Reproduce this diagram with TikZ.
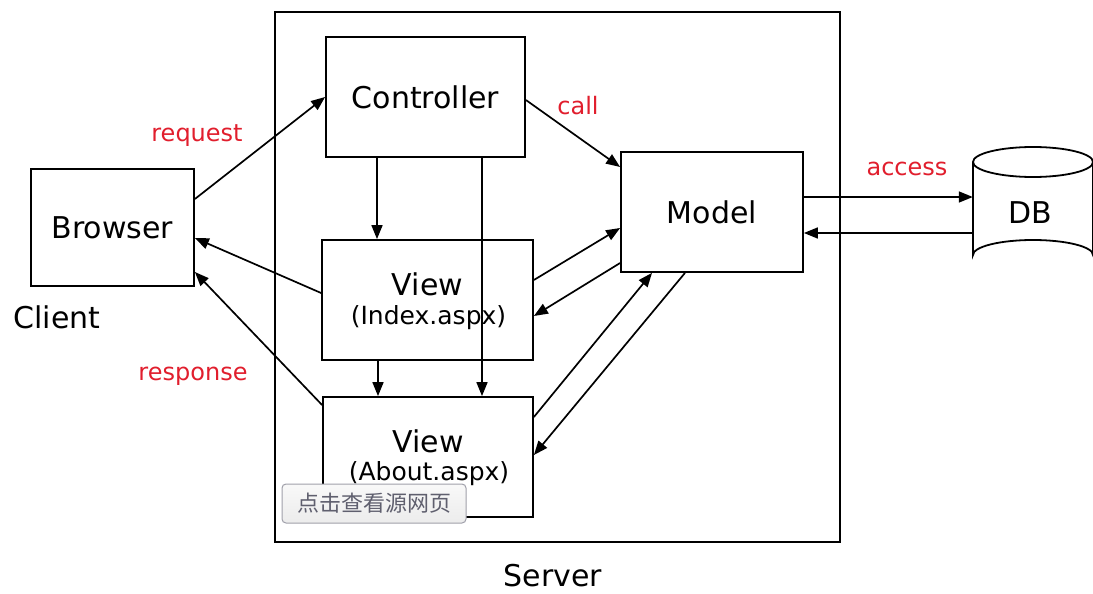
\documentclass[tikz,border=0pt]{standalone}
\usepackage{fontspec}
\setmainfont{DejaVu Sans}
\newfontfamily\cjk{Noto Sans CJK SC}
\usetikzlibrary{arrows.meta,calc}
\definecolor{lblred}{RGB}{225,30,45}
\definecolor{btnborder}{RGB}{160,160,170}
\definecolor{btntext}{RGB}{95,95,110}
\begin{document}
\begin{tikzpicture}[x=1pt,y=-1pt,
  box/.style={draw,line width=1.8pt,inner sep=0pt,font=\fontsize{30}{34}\selectfont},
  conn/.style={line width=1.7pt,-{Triangle[length=14pt,width=11pt]}},
  lbl/.style={text=lblred,font=\fontsize{24}{28}\selectfont,inner sep=0pt},
  big/.style={font=\fontsize{30}{34}\selectfont,inner sep=0pt},
  sub/.style={font=\fontsize{25}{28}\selectfont}]
\useasboundingbox (0,0) rectangle (1093,594);
\fill[white] (0,0) rectangle (1093,594);
% server box
\node[draw,line width=1.8pt,minimum width=565pt,minimum height=530pt,inner sep=0pt] (server) at (557.5,277) {};
\node[big] (serverlbl) at (553,576) {Server};
% boxes
\node[box,minimum width=163pt,minimum height=117pt] (browser) at (112.5,227.5) {Browser};
\node[big] (client) at (57,317) {Client};
\node[box,minimum width=199pt,minimum height=120pt] (controller) at (425.5,97) {Controller};
\node[box,minimum width=182pt,minimum height=120pt] (model) at (712,212) {Model};
\node[box,minimum width=211pt,minimum height=120pt] (vidx) at (427.5,300) {};
\node[big] (vidxt) at (427.5,284) {View};
\node[sub] (vidxs) at (428.5,318) {(Index.aspx)};
\node[box,minimum width=210pt,minimum height=120pt] (vabout) at (428,457) {};
\node[big] (vaboutt) at (428,441) {View};
\node[sub] (vabouts) at (429,474) {(About.aspx)};
% DB cylinder
\node[minimum width=120pt,minimum height=108pt,inner sep=0pt] (db) at (1033,209) {};
\draw[line width=1.8pt,fill=white] (973,162) -- (973,255) arc[start angle=180,end angle=360,x radius=60,y radius=15] -- (1093,162);
\draw[line width=1.8pt] (1033,162) ellipse[x radius=60,y radius=15];
\node[big] (dbt) at (1030,213) {DB};
% connectors
\draw[conn] ([yshift=28.5pt]browser.east) -- (controller.west);
\node[lbl] (request) at (197,136) {request};
\draw[conn] ([yshift=-3pt]controller.east) -- ([yshift=45pt]model.west);
\node[lbl] (call) at (578,106) {call};
\draw[conn] ([xshift=-48.5pt]controller.south) -- ([xshift=-48.5pt]controller.south |- vidx.north);
\draw[conn] ([xshift=56.5pt]controller.south) -- ([xshift=56.5pt]controller.south |- vabout.north);
\draw[conn] ([xshift=-49.5pt]vidx.south) -- ([xshift=-49.5pt]vidx.south |- vabout.north);
\draw[conn] ([yshift=7pt]vidx.west) -- ([yshift=-10.5pt]browser.east);
\draw[conn] ([yshift=52pt]vabout.west) -- ([yshift=-44.5pt]browser.east);
\node[lbl] (response) at (193,376) {response};
\draw[conn] ([yshift=20pt]vidx.east) -- ([yshift=-16pt]model.west);
\draw[conn] ([yshift=-51pt]model.west) -- ([yshift=-16pt]vidx.east);
\draw[conn] ([yshift=40pt]vabout.east) -- ([xshift=-60pt]model.south);
\draw[conn] ([xshift=-27pt]model.south) -- ([yshift=2pt]vabout.east);
\draw[conn] ([yshift=15pt]model.east) -- ([yshift=15pt]model.east -| db.west);
\draw[conn] ([yshift=-24pt]db.west) -- ([yshift=-24pt]db.west -| model.east);
\node[lbl] (access) at (907,169) {access};
% overlay button
\node[draw=btnborder,line width=1pt,rounded corners=4pt,top color=white!95!gray,bottom color=white!85!gray,
  minimum width=184pt,minimum height=39pt,inner sep=0pt,text=btntext,font=\cjk\fontsize{22}{24}\selectfont] (btn) at (374,503.5) {点击查看源网页};
\end{tikzpicture}
\end{document}
